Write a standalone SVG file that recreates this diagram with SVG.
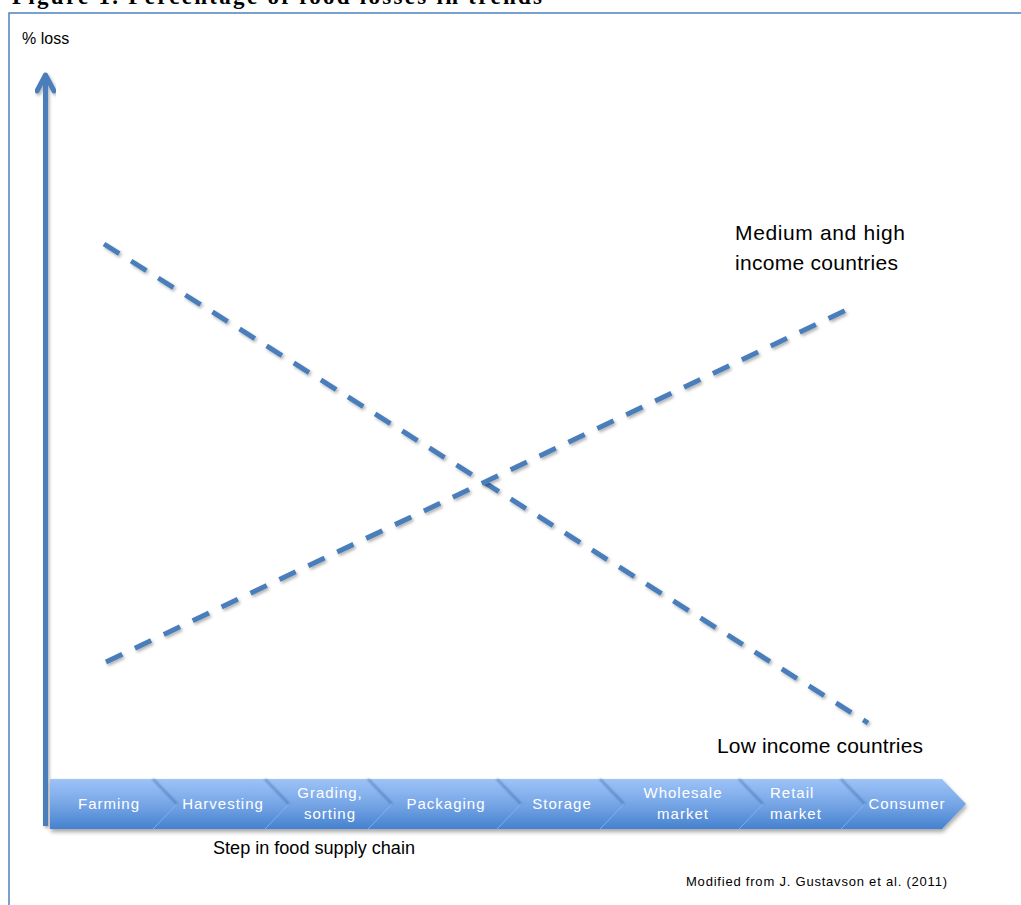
<svg xmlns="http://www.w3.org/2000/svg" width="1021" height="905" viewBox="0 0 1021 905">
  <defs>
    <style>
      .lbl { font-family: "Liberation Sans", Arial, sans-serif; fill: #000; }
      .step { font-family: "Liberation Sans", Arial, sans-serif; font-size: 15px; fill: #ffffff; letter-spacing: 1px; }
      .trend { fill: none; stroke: #4a7ebb; stroke-width: 5; stroke-dasharray: 18 14; filter: url(#soft); }
    </style>
    <linearGradient id="barFill" x1="0" y1="0" x2="0" y2="1">
      <stop offset="0" stop-color="#9dc3f8"/>
      <stop offset="0.5" stop-color="#77a6e6"/>
      <stop offset="1" stop-color="#4581cf"/>
    </linearGradient>
    <filter id="soft" x="-10%" y="-10%" width="120%" height="130%">
      <feDropShadow dx="1.5" dy="2" stdDeviation="1.5" flood-color="#000" flood-opacity="0.3"/>
    </filter>
    <filter id="barShadow" x="-5%" y="-20%" width="110%" height="160%">
      <feDropShadow dx="1" dy="3" stdDeviation="2" flood-color="#000" flood-opacity="0.35"/>
    </filter>
    <filter id="sepBlur" x="-50%" y="-20%" width="200%" height="140%">
      <feGaussianBlur stdDeviation="0.8"/>
    </filter>
  </defs>

  <rect width="1021" height="905" fill="#ffffff"/>

  <!-- caption above the frame, mostly cut off by the page edge -->
  <text x="12" y="4" font-family="'Liberation Serif', 'Times New Roman', serif" font-weight="bold" font-size="23" textLength="530" lengthAdjust="spacing">Figure 1. Percentage of food losses in trends</text>

  <!-- figure frame -->
  <rect x="9" y="13" width="1030" height="920" fill="#ffffff" stroke="#4f81bd" stroke-width="1.5"/>

  <g id="y-axis" filter="url(#soft)">
    <line x1="45.5" y1="826" x2="45.5" y2="78" stroke="#4a7ebb" stroke-width="5"/>
    <path d="M37,91 L45.5,75 L54,91" fill="none" stroke="#4a7ebb" stroke-width="5" stroke-linecap="round" stroke-linejoin="round"/>
  </g>
  <g id="y-label">
    <text class="lbl" x="22" y="44" font-size="16">% loss</text>
  </g>

  <!-- supply chain process arrow -->
  <g id="supply-chain">
    <path d="M50,779 L942,779 L966,804 L942,829 L50,829 Z" fill="url(#barFill)" filter="url(#barShadow)"/>
    <g id="separators">
      <g fill="none" stroke="#2f5f9f" stroke-width="1.6" stroke-opacity="0.7" filter="url(#sepBlur)">
        <path d="M153,779 L177,804"/>
        <path d="M265,779 L289,804"/>
        <path d="M368,779 L392,804"/>
        <path d="M497,779 L521,804"/>
        <path d="M600,779 L624,804"/>
        <path d="M739,779 L763,804"/>
        <path d="M841,779 L865,804"/>
      </g>
      <g fill="none" stroke="#8fb6ee" stroke-width="1" stroke-opacity="0.8">
        <path d="M177,804 L153,829"/>
        <path d="M289,804 L265,829"/>
        <path d="M392,804 L368,829"/>
        <path d="M521,804 L497,829"/>
        <path d="M624,804 L600,829"/>
        <path d="M763,804 L739,829"/>
        <path d="M865,804 L841,829"/>
      </g>
    </g>
    <g id="step-farming"><text class="step" x="109" y="809" text-anchor="middle">Farming</text></g>
    <g id="step-harvesting"><text class="step" x="223" y="809" text-anchor="middle">Harvesting</text></g>
    <g id="step-grading"><text class="step" x="330" y="798" text-anchor="middle">Grading,</text><text class="step" x="330" y="819" text-anchor="middle">sorting</text></g>
    <g id="step-packaging"><text class="step" x="446" y="809" text-anchor="middle">Packaging</text></g>
    <g id="step-storage"><text class="step" x="562" y="809" text-anchor="middle">Storage</text></g>
    <g id="step-wholesale"><text class="step" x="683" y="798" text-anchor="middle">Wholesale</text><text class="step" x="683" y="819" text-anchor="middle">market</text></g>
    <g id="step-retail"><text class="step" x="770" y="798">Retail</text><text class="step" x="770" y="819">market</text></g>
    <g id="step-consumer"><text class="step" x="907" y="809" text-anchor="middle">Consumer</text></g>
  </g>

  <g id="x-label">
    <text class="lbl" x="213" y="854" font-size="17.5" textLength="202" lengthAdjust="spacingAndGlyphs">Step in food supply chain</text>
  </g>

  <!-- trend lines -->
  <g id="connectors">
    <line id="trend-low" class="trend" x1="104" y1="244" x2="868" y2="723"/>
    <line id="trend-high" class="trend" x1="106" y1="662" x2="855" y2="306"/>
  </g>

  <g id="label-high">
    <text class="lbl" x="735" y="240" font-size="21" textLength="170" lengthAdjust="spacing">Medium and high</text>
    <text class="lbl" x="735" y="270" font-size="21" textLength="163" lengthAdjust="spacing">income countries</text>
  </g>
  <g id="label-low">
    <text class="lbl" x="717" y="753" font-size="21" textLength="206" lengthAdjust="spacing">Low income countries</text>
  </g>

  <g id="source">
    <text class="lbl" x="686" y="886" font-size="13" textLength="261" lengthAdjust="spacing">Modified from J. Gustavson et al. (2011)</text>
  </g>
</svg>
